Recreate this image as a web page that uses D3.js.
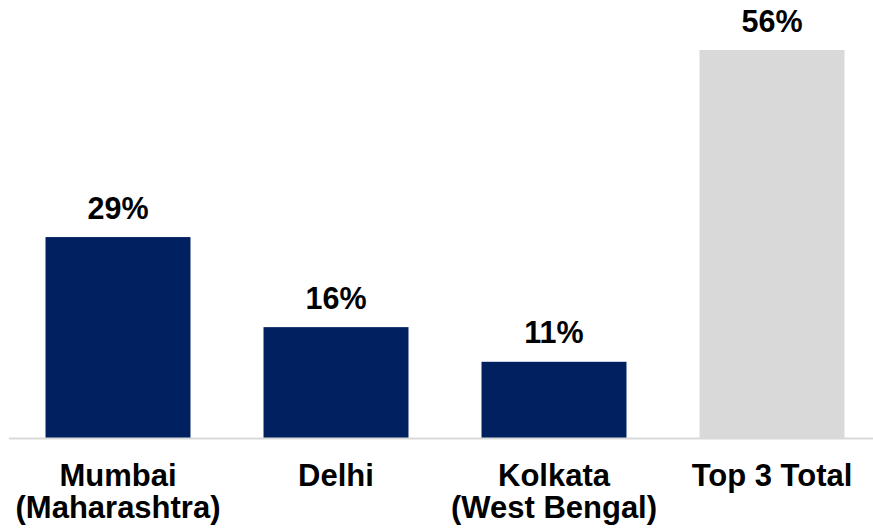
<!DOCTYPE html>
<html>
<head>
<meta charset="utf-8">
<script src="https://cdn.jsdelivr.net/npm/d3@7"></script>
<style>
  html, body { margin: 0; padding: 0; background: #fff; }
  svg { display: block; }
</style>
</head>
<body>
<svg id="chart" width="873" height="532"></svg>
<script>
// Share of total by city, plus the combined top-3 figure
const categories = ["Mumbai\n(Maharashtra)", "Delhi", "Kolkata\n(West Bengal)", "Top 3 Total"];
const values = [29, 16, 11, 56];
const valueLabels = ["29%", "16%", "11%", "56%"];
const barColors = ["#002060", "#002060", "#002060", "#d9d9d9"];

const svg = d3.select("#chart");
const baseline = 438;
const font = "'Liberation Sans', Arial, sans-serif";

const x = d3.scaleBand()
  .domain(categories)
  .range([9, 881])
  .paddingInner(0.335)
  .paddingOuter(0.1675);

const y = d3.scaleLinear()
  .domain([0, 56])
  .range([baseline, 50]);

// Bars
svg.selectAll("rect.bar")
  .data(categories)
  .join("rect")
  .attr("class", "bar")
  .attr("x", d => x(d))
  .attr("width", x.bandwidth())
  .attr("y", (d, i) => y(values[i]))
  .attr("height", (d, i) => baseline - y(values[i]))
  .attr("fill", (d, i) => barColors[i]);

// Baseline axis line
svg.append("line")
  .attr("x1", 9).attr("x2", 873)
  .attr("y1", baseline + 0.5).attr("y2", baseline + 0.5)
  .attr("stroke", "#d9d9d9")
  .attr("stroke-width", 2);

// Value labels above bars
svg.selectAll("text.value")
  .data(categories)
  .join("text")
  .attr("class", "value")
  .attr("x", d => x(d) + x.bandwidth() / 2)
  .attr("y", (d, i) => y(values[i]) - 18.5)
  .attr("text-anchor", "middle")
  .attr("font-family", font)
  .attr("font-weight", "bold")
  .attr("font-size", "30.5px")
  .attr("fill", "#000")
  .text((d, i) => valueLabels[i]);

// Category labels, one text element per line
const catLines = categories.flatMap(d =>
  d.split("\n").map((line, j) => ({ cat: d, line, j }))
);

svg.selectAll("text.cat")
  .data(catLines)
  .join("text")
  .attr("class", "cat")
  .attr("x", d => x(d.cat) + x.bandwidth() / 2)
  .attr("y", d => 486 + d.j * 32)
  .attr("text-anchor", "middle")
  .attr("font-family", font)
  .attr("font-weight", "bold")
  .attr("font-size", "31px")
  .attr("fill", "#000")
  .text(d => d.line);
</script>
</body>
</html>
